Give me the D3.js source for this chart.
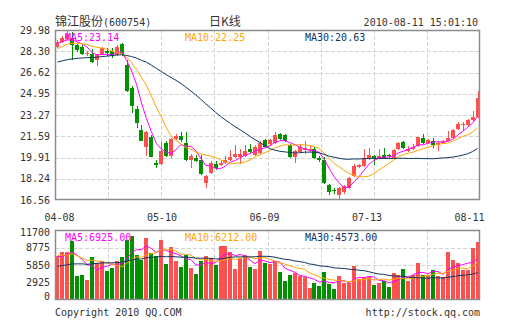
<!DOCTYPE html>
<html><head><meta charset="utf-8">
<script src="https://cdn.jsdelivr.net/npm/d3@7"></script>
<style>
html,body{margin:0;padding:0;background:#fff;}
svg{display:block;}
text{font-family:"DejaVu Sans Mono","Liberation Mono",monospace;font-size:10px;fill:#333;}
.cjk{font-family:"Noto Sans CJK SC",sans-serif;font-size:12px;}
</style></head><body>
<svg id="chart" width="505" height="330"></svg>
<script>
// Trading sessions, 2010
const dates = [
"04-08","04-09","04-12","04-13","04-14","04-15","04-16","04-19","04-20","04-21","04-22","04-23","04-26","04-27","04-28","04-29","04-30",
"05-04","05-05","05-06","05-07","05-10","05-11","05-12","05-13","05-14","05-17","05-18","05-19","05-20","05-21","05-24","05-25","05-26","05-27","05-28","05-31",
"06-01","06-02","06-03","06-04","06-07","06-08","06-09","06-10","06-11","06-17","06-18","06-21","06-22","06-23","06-24","06-25","06-28","06-29","06-30",
"07-01","07-02","07-05","07-06","07-07","07-08","07-09","07-12","07-13","07-14","07-15","07-16","07-19","07-20","07-21","07-22","07-23","07-26","07-27","07-28","07-29","07-30",
"08-02","08-03","08-04","08-05","08-06","08-09","08-10","08-11"];

const opens = [28.64,29.01,29.27,29.35,28.80,28.64,28.05,28.09,27.58,28.05,28.32,28.36,28.01,28.87,27.22,25.40,23.74,22.09,20.77,21.56,
19.46,19.40,21.04,20.07,21.41,21.65,21.06,19.68,19.90,19.72,17.90,18.69,19.40,19.32,19.52,19.72,19.95,19.95,20.03,20.62,
20.11,20.27,21.26,20.98,21.06,21.77,21.69,20.90,19.99,20.35,20.51,20.47,20.59,19.88,19.72,17.74,17.34,16.95,17.23,17.51,
18.45,19.17,19.24,19.76,20.06,19.80,20.11,20.15,19.88,20.56,21.16,20.43,20.55,20.82,21.45,21.06,21.19,20.90,21.06,21.24,
21.45,22.13,22.45,22.52,22.85,23.09];
const highs = [29.19,29.53,29.94,29.86,28.87,28.80,28.32,28.48,28.09,28.64,28.56,28.56,28.83,28.95,27.65,25.56,23.98,22.50,22.01,21.69,
19.72,21.16,21.24,21.45,21.77,21.93,21.95,20.19,20.11,20.11,18.53,19.64,19.60,19.72,20.03,20.47,20.90,20.59,20.90,20.98,
20.90,21.22,21.38,21.38,21.93,21.85,21.77,20.98,20.51,20.98,21.18,20.82,20.74,20.03,19.99,17.82,17.51,17.58,17.72,18.38,
19.40,19.40,20.62,20.67,20.15,20.62,20.64,20.19,20.59,21.14,21.22,20.82,20.98,21.53,21.77,21.38,21.45,21.14,21.30,21.98,
22.16,22.72,22.72,22.95,23.56,25.19];
const lows = [28.56,28.95,29.19,27.65,28.24,28.01,27.93,27.37,27.10,28.01,27.93,27.77,27.93,27.93,25.09,23.43,22.24,21.18,20.06,19.95,
19.06,19.36,19.95,19.88,21.30,21.14,19.64,19.09,19.56,18.53,17.51,18.61,18.93,19.24,19.44,19.64,19.88,19.40,19.95,20.27,
20.03,20.19,20.74,20.90,20.98,21.30,21.14,19.88,19.48,20.27,20.19,20.35,19.80,19.56,17.82,16.95,17.03,16.56,17.03,17.43,
18.38,19.09,19.20,19.72,19.36,19.76,19.76,19.88,19.80,20.51,20.59,20.35,20.51,20.74,21.02,20.98,20.67,20.45,20.98,21.21,
21.41,22.09,21.98,22.30,22.80,23.03];
const closes = [29.03,29.37,29.64,28.80,28.42,28.09,28.20,27.45,27.97,28.52,28.16,27.93,28.60,28.05,25.16,23.98,22.64,21.24,21.95,19.98,
19.32,20.45,20.03,21.36,21.59,21.26,19.72,20.03,19.66,18.61,18.45,19.48,19.09,19.52,19.68,19.95,20.19,20.23,20.43,20.35,
20.78,21.06,20.78,21.26,21.69,21.38,21.22,19.93,20.43,20.74,20.66,20.61,19.88,19.68,17.88,17.19,17.30,17.50,17.68,18.26,
19.24,19.33,19.88,20.15,19.80,20.07,19.80,20.00,20.51,21.08,20.64,20.60,20.78,21.50,21.06,21.32,20.94,21.06,21.24,21.45,
22.11,22.55,22.55,22.85,23.10,24.65];
const volumes = [7410,7966,7966,9916,4067,4178,3343,7187,6128,6518,4847,5404,6518,7187,10028,10696,7521,6685,10306,7799,
7354,10028,5961,8802,6518,5515,7521,5404,4345,6518,7354,7000,5900,9000,8950,8020,5100,7100,7500,5500,
5161,8198,6254,6072,6497,4736,3158,4251,4554,3947,3826,2003,2915,2308,4736,2733,1834,4069,2854,2854,
5708,3461,3826,3826,2551,2854,3219,2126,4433,4251,5161,3158,4129,6254,4251,4251,5040,4069,3820,7948,
6618,6193,4979,4979,8760,9714];

// The 29 sessions before 04-08, needed to start the moving averages
const priorCloses = [26.62,26.85,27.10,26.94,27.28,27.45,27.16,26.98,27.31,27.02,26.80,27.12,27.36,26.95,26.50,
26.32,26.58,26.41,26.87,27.02,27.52,27.80,28.21,28.30,28.67,28.55,28.93,28.86,29.13];
const priorVolumes = [3820,4510,5230,3960,4180,5640,4870,3590,4320,5010,4460,6120,5380,4090,3750,4930,5480,4210,5860,5400,
6840,8120,7350,7960,7530,7620,6480,7910,6780];

const priceTicks = [29.98,28.30,26.62,24.95,23.27,21.59,19.91,18.24,16.56];
const volumeTicks = [11700,8775,5850,2925,0];
const dateTicks = ["04-08","05-10","06-09","07-13","08-11"];
const maPeriods = [5,10,30];
const maColors = ["#ff00ff","#ffa500","#0f3563"];

const svg = d3.select("#chart");
const L = 55, R = 480, T1 = 30, B1 = 200, T2 = 230, B2 = 300;
const gridColor = "#d4d4d4", frameColor = "#8c8c8c";
const upColor = "#ff5050", downColor = "#009000";

const x = d3.scaleBand().domain(dates).range([L, R]).paddingInner(0.2).paddingOuter(0.1);
const cx = d => x(d) + x.bandwidth() / 2;
const y = d3.scaleLinear().domain([16.56, 29.98]).range([B1, T1]);
const yv = d3.scaleLinear().domain([0, 11700]).range([B2, T2]);

function movingAverage(prior, values, n) {
  const all = prior.concat(values);
  return values.map((_, i) => {
    const end = prior.length + i + 1;
    return d3.mean(all.slice(end - n, end));
  });
}
const priceMA = maPeriods.map(n => movingAverage(priorCloses, closes, n));
const volMA = maPeriods.map(n => movingAverage(priorVolumes, volumes, n));

const defs = svg.append("defs");
defs.append("clipPath").attr("id","clipP").append("rect").attr("x",L).attr("y",T1).attr("width",R-L).attr("height",B1-T1);
defs.append("clipPath").attr("id","clipV").append("rect").attr("x",L).attr("y",T2).attr("width",R-L).attr("height",B2-T2);

// grids
function grid(top, bottom, hValues, scale) {
  const g = svg.append("g").attr("stroke", gridColor).attr("stroke-dasharray","4,2").attr("shape-rendering","crispEdges");
  d3.range(1, 8).forEach(k => {
    const gx = Math.round(L + k * (R - L) / 8) + 0.5;
    g.append("line").attr("x1",gx).attr("x2",gx).attr("y1",top).attr("y2",bottom);
  });
  hValues.forEach(v => {
    const gy = Math.round(scale(v)) + 0.5;
    g.append("line").attr("x1",L).attr("x2",R).attr("y1",gy).attr("y2",gy);
  });
}
grid(T1, B1, priceTicks.slice(1, -1), y);
grid(T2, B2, volumeTicks.slice(1, -1), yv);

// candles
const idx = d3.range(dates.length);
const cg = svg.append("g").attr("clip-path","url(#clipP)").attr("shape-rendering","crispEdges");
cg.selectAll("line.wick").data(idx).join("line")
  .attr("x1", i => Math.round(cx(dates[i])) + 0.5).attr("x2", i => Math.round(cx(dates[i])) + 0.5)
  .attr("y1", i => y(highs[i])).attr("y2", i => y(lows[i]))
  .attr("stroke", i => closes[i] >= opens[i] ? upColor : downColor);
cg.selectAll("rect.body").data(idx).join("rect")
  .attr("x", i => Math.round(cx(dates[i]) - 2) + 0.5 - 0.5)
  .attr("width", 4)
  .attr("y", i => y(Math.max(opens[i], closes[i])))
  .attr("height", i => Math.max(1, Math.abs(y(opens[i]) - y(closes[i]))))
  .attr("fill", i => closes[i] >= opens[i] ? upColor : downColor);

// volume bars
const vg = svg.append("g").attr("clip-path","url(#clipV)").attr("shape-rendering","crispEdges");
vg.selectAll("rect").data(idx).join("rect")
  .attr("x", i => Math.round(cx(dates[i]) - 2))
  .attr("width", 4)
  .attr("y", i => yv(volumes[i]))
  .attr("height", i => B2 - yv(volumes[i]))
  .attr("fill", i => closes[i] >= opens[i] ? upColor : downColor);

// moving averages
maPeriods.forEach((n, k) => {
  svg.append("path").attr("clip-path","url(#clipP)")
    .attr("d", d3.line().x((_, i) => cx(dates[i])).y(v => y(v))(priceMA[k]))
    .attr("fill","none").attr("stroke", maColors[k]).attr("stroke-width",1);
  svg.append("path").attr("clip-path","url(#clipV)")
    .attr("d", d3.line().x((_, i) => cx(dates[i])).y(v => yv(v))(volMA[k]))
    .attr("fill","none").attr("stroke", maColors[k]).attr("stroke-width",1);
});

// frames
[[T1,B1],[T2,B2]].forEach(([t,b]) => {
  svg.append("rect").attr("x",L+0.5).attr("y",t+0.5).attr("width",R-L-1).attr("height",b-t-1)
    .attr("fill","none").attr("stroke",frameColor).attr("stroke-width",1.5);
});

// axis labels
svg.append("g").selectAll("text").data(priceTicks).join("text")
  .attr("x", 50).attr("y", v => y(v)).attr("dy","0.36em").attr("text-anchor","end")
  .text(v => v.toFixed(2));
svg.append("g").selectAll("text").data(volumeTicks).join("text")
  .attr("x", 50).attr("y", v => Math.min(B2 - 3.5, Math.max(T2 + 2.5, yv(v)))).attr("dy","0.36em").attr("text-anchor","end")
  .text(v => String(v));
const xd = d3.scalePoint().domain(dateTicks).range([59.5, 469.5]);
svg.append("g").selectAll("text").data(dateTicks).join("text")
  .attr("x", d => xd(d)).attr("y", 221).attr("text-anchor","middle").text(d => d);

// moving-average legends
const last = a => a[a.length - 1];
const legX = [65, 185, 305];
maPeriods.forEach((n, k) => {
  svg.append("text").attr("x", legX[k]).attr("y", 40.5).style("fill", maColors[k])
    .text(`MA${n}:${last(priceMA[k]).toFixed(2)}`);
  svg.append("text").attr("x", legX[k]).attr("y", 240.5).style("fill", maColors[k])
    .text(`MA${n}:${last(volMA[k]).toFixed(2)}`);
});

// header
const title = svg.append("text").attr("x", 55).attr("y", 26).style("fill","#333");
title.append("tspan").attr("class","cjk").text("锦江股份");
title.append("tspan").text("(600754)");
svg.append("text").attr("class","cjk").attr("x", 225).attr("y", 26).attr("text-anchor","middle").style("fill","#333").text("日K线");
svg.append("text").attr("x", 478).attr("y", 26).attr("text-anchor","end").text("2010-08-11 15:01:10");

// footer
svg.append("text").attr("x", 55).attr("y", 316).text("Copyright 2010 QQ.COM");
svg.append("text").attr("x", 480).attr("y", 316).attr("text-anchor","end").text("http://stock.qq.com");
</script>
</body></html>
